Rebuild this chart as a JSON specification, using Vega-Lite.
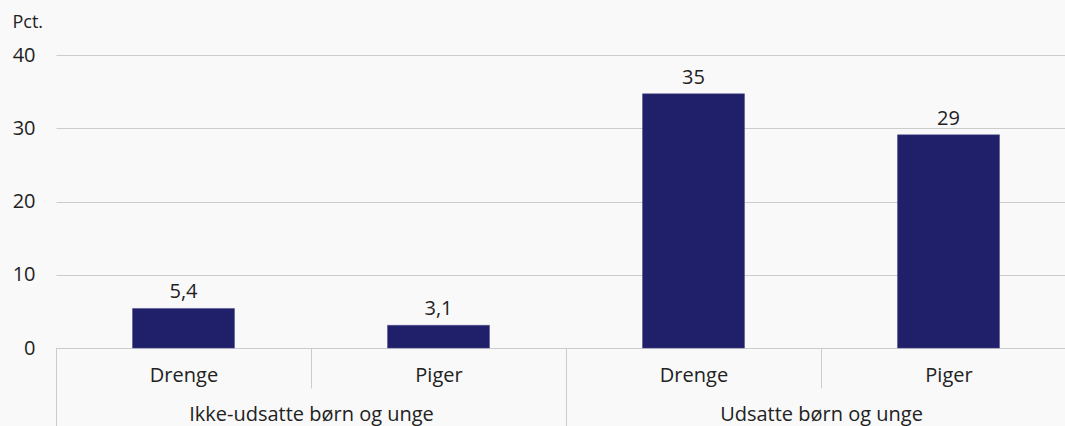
{
  "$schema": "https://vega.github.io/schema/vega-lite/v6.json",
  "autosize": "none",
  "padding": {"left": 56, "top": 55, "right": 0, "bottom": 78},
  "width": 1009,
  "height": 293,
  "background": "#f9f9f9",
  "config": {
    "view": {"stroke": null},
    "font": "Open Sans",
    "axis": {"labelFont": "Open Sans", "titleFont": "Open Sans", "labelFontSize": 20, "titleFontSize": 18, "labelColor": "#222222", "titleColor": "#222222", "titleFontWeight": "normal", "labelLimit": 0}
  },
  "data": {
    "values": [
      {"key": "Ikke-udsatte børn og unge|Drenge", "group": "Ikke-udsatte børn og unge", "sex": "Drenge", "value": 5.4, "label": "5,4"},
      {"key": "Ikke-udsatte børn og unge|Piger", "group": "Ikke-udsatte børn og unge", "sex": "Piger", "value": 3.1, "label": "3,1"},
      {"key": "Udsatte børn og unge|Drenge", "group": "Udsatte børn og unge", "sex": "Drenge", "value": 34.7, "label": "35"},
      {"key": "Udsatte børn og unge|Piger", "group": "Udsatte børn og unge", "sex": "Piger", "value": 29.1, "label": "29"}
    ]
  },
  "layer": [
    {
      "layer": [
        {
          "mark": {"type": "bar", "width": {"band": 0.4}, "color": "#1f1f6a", "stroke": "#4a4a8a", "strokeWidth": 0.5},
          "encoding": {
            "x": {
              "field": "key", "type": "nominal", "sort": null,
              "scale": {"range": [0, 1020], "paddingInner": 0, "paddingOuter": 0},
              "axis": {
                "orient": "bottom", "title": null, "labelAngle": 0,
                "labelExpr": "split(datum.label, '|')[1]",
                "tickBand": "extent", "tickSize": 40, "tickColor": "#cccccc",
                "domainColor": "#cccccc", "labelPadding": -23
              }
            },
            "y": {
              "field": "value", "type": "quantitative",
              "scale": {"domain": [0, 40]},
              "axis": {
                "values": [0, 10, 20, 30, 40], "grid": true, "gridColor": "#cccccc",
                "domain": false, "ticks": false, "labelPadding": 21,
                "title": "Pct.", "titleAngle": 0, "titleAlign": "left", "titleBaseline": "middle",
                "titleX": -44, "titleY": -33
              }
            }
          }
        },
        {
          "mark": {"type": "text", "baseline": "bottom", "dy": -6, "fontSize": 20, "color": "#222222", "font": "Open Sans"},
          "encoding": {
            "x": {"field": "key", "type": "nominal", "sort": null},
            "y": {"field": "value", "type": "quantitative"},
            "text": {"field": "label"}
          }
        }
      ]
    },
    {
      "mark": {"type": "tick", "opacity": 0},
      "encoding": {
        "x": {
          "field": "group", "type": "nominal", "sort": null,
          "scale": {"range": [0, 1020], "paddingInner": 0, "paddingOuter": 0},
          "axis": {
            "orient": "bottom", "title": null, "labelAngle": 0,
            "tickBand": "extent", "tickSize": 78, "tickColor": "#cccccc",
            "domain": false, "labelPadding": -22
          }
        },
        "y": {"datum": 0, "type": "quantitative"}
      }
    }
  ],
  "resolve": {"scale": {"x": "independent"}, "axis": {"x": "independent"}}
}
